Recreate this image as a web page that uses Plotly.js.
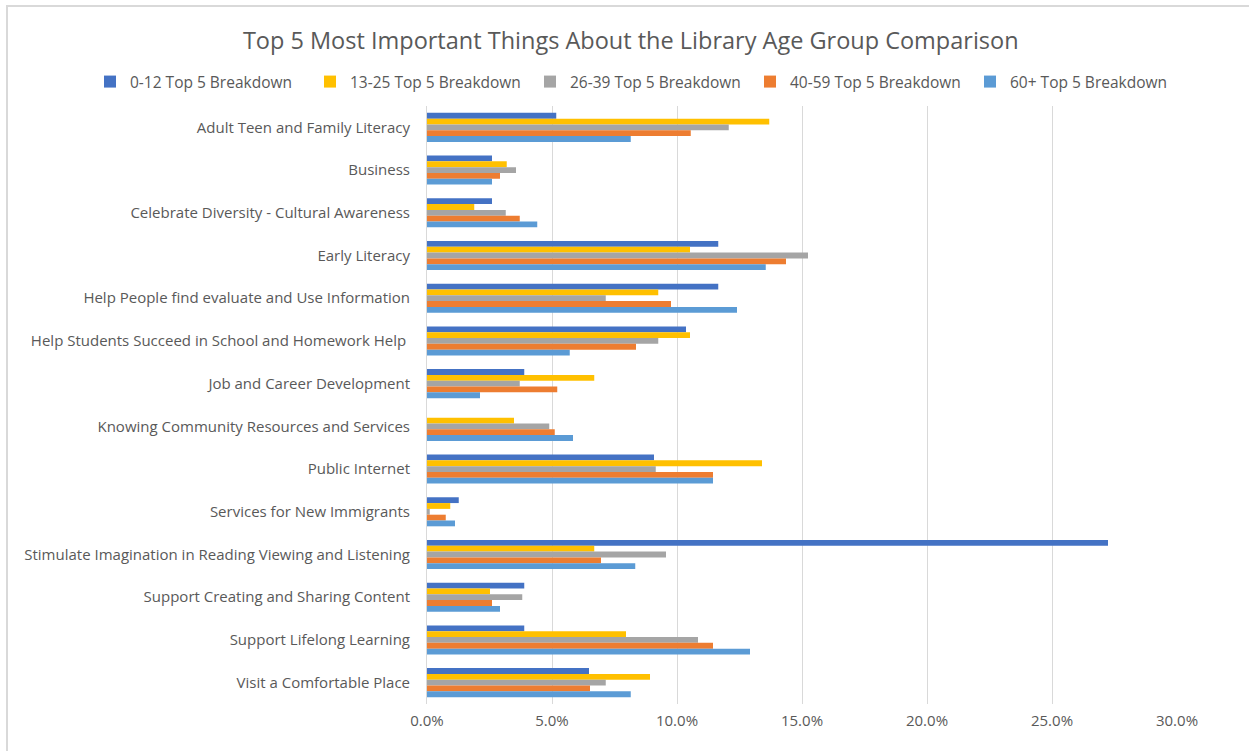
<!DOCTYPE html>
<html>
<head>
<meta charset="utf-8">
<script src="https://cdn.plot.ly/plotly-3.0.1.min.js"></script>
<style>
html,body{margin:0;padding:0;background:#fff;}
#wrap{position:relative;width:1249px;height:751px;}
#chart{width:1249px;height:751px;}
#frame{position:absolute;left:6px;top:5px;right:-5px;bottom:-5px;border-left:2px solid #d9d9d9;border-top:2px solid #d9d9d9;pointer-events:none;}
</style>
</head>
<body>
<div id="wrap"><div id="chart"></div><div id="frame"></div></div>
<script>
const categories = [
  "Adult Teen and Family Literacy",
  "Business",
  "Celebrate Diversity - Cultural Awareness",
  "Early Literacy",
  "Help People find evaluate and Use Information",
  "Help Students Succeed in School and Homework Help ",
  "Job and Career Development",
  "Knowing Community Resources and Services",
  "Public Internet",
  "Services for New Immigrants",
  "Stimulate Imagination in Reading Viewing and Listening",
  "Support Creating and Sharing Content",
  "Support Lifelong Learning",
  "Visit a Comfortable Place"
];
const seriesNames = ["0-12 Top 5 Breakdown","13-25 Top 5 Breakdown","26-39 Top 5 Breakdown","40-59 Top 5 Breakdown","60+ Top 5 Breakdown"];
const age0_12  = [5.17, 2.60, 2.60, 11.65, 11.65, 10.36, 3.89, 0.00, 9.08, 1.27, 27.24, 3.89, 3.89, 6.48];
const age13_25 = [13.69, 3.19, 1.89, 10.52, 9.25, 10.52, 6.69, 3.48, 13.40, 0.93, 6.69, 2.52, 7.96, 8.92];
const age26_39 = [12.07, 3.56, 3.15, 15.24, 7.15, 9.25, 3.71, 4.89, 9.15, 0.11, 9.56, 3.81, 10.84, 7.15];
const age40_59 = [10.55, 2.92, 3.71, 14.36, 9.76, 8.36, 5.21, 5.11, 11.44, 0.75, 6.96, 2.60, 11.44, 6.52];
const age60    = [8.15, 2.60, 4.41, 13.55, 12.40, 5.71, 2.12, 5.84, 11.44, 1.12, 8.33, 2.92, 12.92, 8.15];
const xTicks = [0, 5, 10, 15, 20, 25, 30];
const colors = ["#4472C4","#FFC000","#A5A5A5","#ED7D31","#5B9BD5"];
const allSeries = [age0_12, age13_25, age26_39, age40_59, age60];

const FONT = "Open Sans, sans-serif";
const traces = allSeries.map((vals, i) => ({
  type: "bar",
  orientation: "h",
  name: seriesNames[i],
  y: categories,
  x: vals,
  marker: {color: colors[i], line: {width: 0}},
  hoverinfo: "x+y+name"
}));

const L = 427, T = 106, W = 750, H = 598;
const layout = {
  width: 1249, height: 751,
  paper_bgcolor: "#ffffff", plot_bgcolor: "#ffffff",
  margin: {l: L, r: 1249 - L - W, t: T, b: 751 - T - H, autoexpand: false},
  barmode: "group",
  bargap: 0.32,
  bargroupgap: 0,
  font: {family: FONT, color: "#595959", size: 14},
  title: {
    text: "Top 5 Most Important Things About the Library Age Group Comparison",
    font: {family: FONT, size: 23.5, color: "#595959"},
    x: 0.505, xanchor: "center", xref: "container",
    y: 1 - 41/751, yanchor: "middle", yref: "container"
  },
  legend: {
    orientation: "h",
    xref: "paper", yref: "paper",
    x: (90 - L) / W, xanchor: "left",
    y: 1 + (T - 82) / H, yanchor: "middle",
    font: {family: FONT, size: 15.5, color: "#595959"},
    entrywidth: 175, entrywidthmode: "pixels",
    itemwidth: 30,
    traceorder: "normal",
    bgcolor: "rgba(0,0,0,0)"
  },
  xaxis: {
    range: [0, 30],
    tickvals: xTicks,
    ticktext: xTicks.map(v => v.toFixed(1) + "%"),
    showgrid: true, gridcolor: "#d9d9d9", gridwidth: 1,
    zeroline: false, showline: false,
    ticks: "", tickfont: {family: FONT, size: 15, color: "#595959"},
    ticklabelstandoff: 6,
    fixedrange: true
  },
  yaxis: {
    type: "category",
    autorange: "reversed",
    showgrid: false, zeroline: false,
    showline: true, linecolor: "#d9d9d9", linewidth: 1,
    ticks: "",
    tickfont: {family: FONT, size: 15, color: "#595959"},
    ticklabelstandoff: 13,
    fixedrange: true
  }
};

Plotly.newPlot("chart", traces, layout, {displayModeBar: false});
</script>
</body>
</html>
